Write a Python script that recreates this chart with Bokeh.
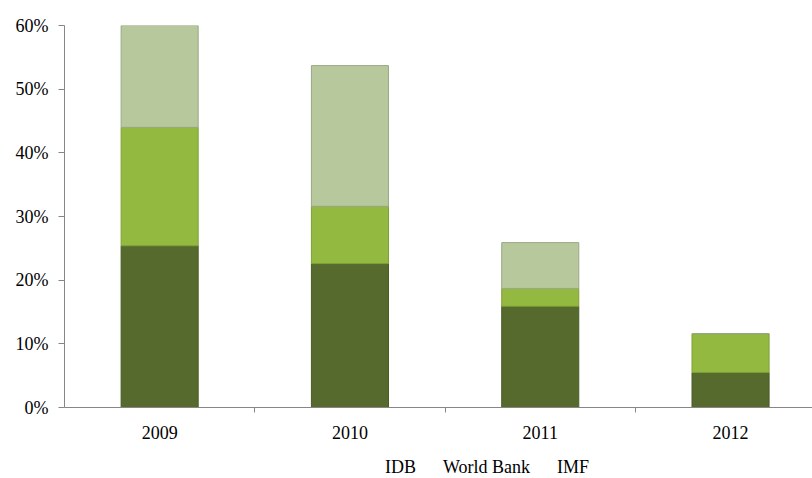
from bokeh.plotting import figure
from bokeh.layouts import column
from bokeh.models import (ColumnDataSource, Range1d, FixedTicker, NumeralTickFormatter,
                          Legend, LegendItem)
from bokeh.embed import file_html
from bokeh.resources import INLINE

years = ["2009", "2010", "2011", "2012"]
idb = [0.254, 0.226, 0.159, 0.055]
world_bank = [0.186, 0.090, 0.028, 0.061]
imf = [0.160, 0.221, 0.072, 0.0]
series_names = ["IDB", "World Bank", "IMF"]
colors = ["#566a2e", "#93b940", "#b7c89c"]
line_colors = ["#4a5c26", "#7f9f35", "#9aa886"]
y_ticks = [0, 0.1, 0.2, 0.3, 0.4, 0.5, 0.6]

xs = [i + 0.5 for i in range(len(years))]
b1 = [0.0] * len(years)
t1 = [b + v for b, v in zip(b1, idb)]
t2 = [b + v for b, v in zip(t1, world_bank)]
t3 = [b + v for b, v in zip(t2, imf)]

src = ColumnDataSource(dict(x=xs, b1=b1, t1=t1, t2=t2, t3=t3))

FONT = "Liberation Serif"

p = figure(width=812, height=448, output_backend="svg", toolbar_location=None,
           x_range=Range1d(0, (812 - 64) / 190.3), y_range=Range1d(0, 0.6),
           min_border_left=64, min_border_right=0, min_border_top=25, min_border_bottom=41)
p.outline_line_color = None
p.xgrid.visible = False
p.ygrid.visible = False
p.background_fill_color = "white"
p.border_fill_color = "white"

bw = 0.405
p.vbar(x="x", bottom="b1", top="t1", width=bw, source=src,
       fill_color=colors[0], line_color=line_colors[0], line_width=1)
p.vbar(x="x", bottom="t1", top="t2", width=bw, source=src,
       fill_color=colors[1], line_color=line_colors[1], line_width=1)
p.vbar(x="x", bottom="t2", top="t3", width=bw, source=src,
       fill_color=colors[2], line_color=line_colors[2], line_width=1)

# x axis
xa = p.xaxis[0]
xa.ticker = FixedTicker(ticks=xs, minor_ticks=[1, 2, 3])
xa.major_label_overrides = {x: y for x, y in zip(xs, years)}
xa.major_tick_out = 0
xa.major_tick_in = 0
xa.minor_tick_out = 5
xa.minor_tick_in = 0
xa.minor_tick_line_color = "#868686"
xa.axis_line_color = "#868686"
xa.major_label_text_font = FONT
xa.major_label_text_font_size = "18px"
xa.major_label_text_color = "black"
xa.major_label_standoff = 13

# y axis
ya = p.yaxis[0]
ya.ticker = FixedTicker(ticks=y_ticks)
ya.formatter = NumeralTickFormatter(format="0%")
ya.major_tick_out = 6
ya.major_tick_in = 0
ya.minor_tick_out = 0
ya.minor_tick_in = 0
ya.major_tick_line_color = "#868686"
ya.axis_line_color = "#868686"
ya.major_label_text_font = FONT
ya.major_label_text_font_size = "18px"
ya.major_label_text_color = "black"
ya.major_label_standoff = 10

# legend strip below the chart
p2 = figure(width=812, height=30, output_backend="svg", toolbar_location=None,
            x_range=Range1d(0, 1), y_range=Range1d(0, 1),
            x_axis_location=None, y_axis_location=None,
            min_border_left=0, min_border_right=0, min_border_top=0, min_border_bottom=0)
p2.outline_line_color = None
p2.xgrid.visible = False
p2.ygrid.visible = False
empty = ColumnDataSource(dict(x=[], top=[]))
leg_renderers = [p2.vbar(x="x", top="top", width=0.1, source=empty,
                         fill_color=c, line_color=lc)
                 for c, lc in zip(colors, line_colors)]

legend = Legend(items=[LegendItem(label=n, renderers=[r])
                       for n, r in zip(series_names, leg_renderers)],
                orientation="horizontal", location=(308, 0),
                label_text_font=FONT, label_text_font_size="18px",
                label_text_color="black", glyph_width=10, glyph_height=10,
                spacing=14, label_standoff=3, padding=0, margin=0,
                border_line_color=None, background_fill_alpha=0)
p2.add_layout(legend, "center")

layout = column(p, p2, spacing=0)
open("out.html", "w").write(file_html(layout, INLINE))
